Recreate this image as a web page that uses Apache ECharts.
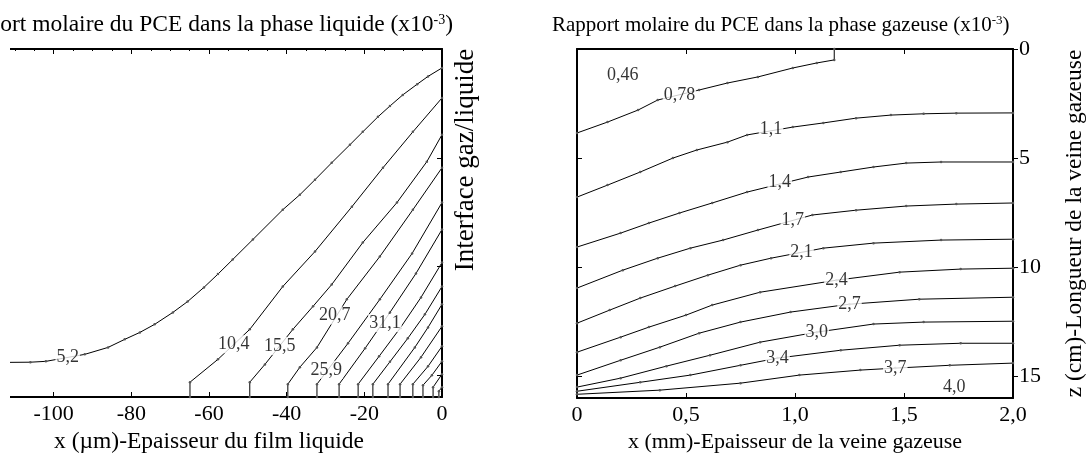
<!DOCTYPE html>
<html>
<head>
<meta charset="utf-8">
<script src="https://cdn.jsdelivr.net/npm/echarts@6/dist/echarts.min.js"></script>
<style>
	html, body { margin: 0; padding: 0; background: #fff; }
	#chart { width: 1091px; height: 455px; }
</style>
</head>
<body>
<div id="chart"></div>
<script>
// phase liquide : x en um, z en cm
var liqC1 = [[-120, 14.42], [-106, 14.40], [-102, 14.36], [-92, 14.04], [-86, 13.72], [-81.7, 13.35], [-77.8, 13.03], [-74, 12.66], [-69.3, 12.11], [-65.5, 11.61], [-61.3, 10.96], [-57.7, 10.35], [-53.9, 9.68], [-48.7, 8.76], [-41, 7.39], [-36.6, 6.70], [-32.7, 6.01], [-28.4, 5.23], [-23.7, 4.40], [-20.4, 3.81], [-16.5, 3.12], [-13.4, 2.62], [-10.1, 2.11], [-6.4, 1.62], [-3.6, 1.26], [0, 0.87]];
var liqC2 = [[-64.9, 16], [-64.9, 15.32], [-57.7, 14.27], [-49.5, 12.89], [-41, 10.92], [-32.7, 9.31], [-23.2, 7.25], [-15.2, 5.46], [-7.5, 3.81], [0, 2.25]];
var liqC3 = [[-49.5, 16], [-49.5, 15.32], [-45.6, 14.5], [-38.4, 12.89], [-33.2, 11.83], [-28.4, 10.83], [-20.4, 8.90], [-11.6, 7.06], [-3.9, 5.18], [0, 3.94]];
var liqC4 = [[-39.7, 16], [-39.7, 15.41], [-36.6, 14.63], [-32.2, 13.72], [-24.5, 11.51], [-16, 9.54], [-7.5, 7.39], [0, 5.46]];
var liqC5 = [[-32.2, 16], [-32.2, 15.41], [-24.2, 13.53], [-16, 11.51], [-7.7, 9.40], [0, 7.06]];
var liqC6 = [[-26.5, 16], [-26.5, 15.41], [-19.8, 13.76], [-13.4, 12.11], [-6.7, 10.32], [0, 8.30]];
var liqC7 = [[-21.6, 16], [-21.6, 15.41], [-16.2, 14.13], [-10.8, 12.84], [-5.4, 11.42], [0, 9.82]];
var liqC8 = [[-17.8, 16], [-17.8, 15.41], [-13.4, 14.38], [-8.8, 13.30], [-4.4, 12.2], [0, 10.92]];
var liqC9 = [[-13.9, 16], [-13.9, 15.41], [-7.0, 13.72], [-3.6, 12.8], [0, 11.74]];
var liqC10 = [[-10.8, 16], [-10.8, 15.41], [-5.4, 14.17], [0, 12.75]];
var liqC11 = [[-7.5, 16], [-7.5, 15.41], [-3.6, 14.59], [0, 13.67]];
var liqC12 = [[-4.9, 16], [-4.9, 15.46], [-2.6, 15.0], [0, 14.36]];
var liqC13 = [[-2.3, 16], [-2.3, 15.55], [0, 14.95]];
var liqC14 = [[-0.8, 16], [-0.8, 15.73], [0, 15.55]];
var liqLabels = ['5,2', '10,4', '15,5', '20,7', '25,9', '31,1'];
var liqLabelPos = [[-96.4, 14.18], [-53.6, 13.58], [-41.8, 13.65], [-27.6, 12.25], [-29.8, 14.75], [-14.7, 12.6]];

// phase gazeuse : x en mm, z en cm
var gasC1 = [[0, 3.85], [0.14, 3.35], [0.28, 2.80], [0.37, 2.34], [0.56, 1.88], [0.69, 1.56], [0.83, 1.28], [0.99, 0.87], [1.10, 0.64], [1.18, 0.50], [1.18, 0]];
var gasC2 = [[0, 6.79], [0.14, 6.24], [0.29, 5.64], [0.44, 5.0], [0.55, 4.63], [0.69, 4.27], [0.78, 3.94], [0.99, 3.58], [1.13, 3.39], [1.28, 3.17], [1.44, 3.03], [1.59, 2.97], [1.74, 2.94], [2.0, 2.93]];
var gasC3 = [[0, 9.08], [0.20, 8.44], [0.33, 7.98], [0.47, 7.52], [0.62, 7.06], [0.78, 6.56], [1.06, 5.87], [1.21, 5.64], [1.36, 5.41], [1.51, 5.23], [1.67, 5.18], [2.0, 5.18]];
var gasC4 = [[0, 10.96], [0.21, 10.14], [0.37, 9.59], [0.52, 9.13], [0.67, 8.76], [0.83, 8.30], [1.08, 7.61], [1.28, 7.39], [1.51, 7.20], [1.74, 7.11], [2.0, 7.06]];
var gasC5 = [[0, 12.57], [0.15, 11.97], [0.29, 11.42], [0.45, 10.87], [0.60, 10.37], [0.75, 9.91], [0.89, 9.59], [1.13, 9.13], [1.36, 8.90], [1.67, 8.76], [2.0, 8.72]];
var gasC6 = [[0, 13.90], [0.20, 13.21], [0.33, 12.75], [0.50, 12.20], [0.62, 11.74], [0.84, 11.15], [1.19, 10.60], [1.48, 10.23], [1.76, 10.09], [2.0, 10.05]];
var gasC7 = [[0, 14.95], [0.20, 14.27], [0.38, 13.67], [0.56, 13.03], [0.75, 12.52], [0.98, 12.06], [1.25, 11.70], [1.57, 11.47], [2.0, 11.38]];
var gasC8 = [[0, 15.50], [0.20, 15.09], [0.41, 14.54], [0.61, 14.04], [0.84, 13.44], [1.10, 12.98], [1.36, 12.61], [1.59, 12.52], [2.0, 12.48]];
var gasC9 = [[0, 15.69], [0.29, 15.28], [0.52, 14.95], [0.75, 14.50], [0.92, 14.17], [1.21, 13.81], [1.48, 13.58], [1.76, 13.49], [2.0, 13.49]];
var gasC10 = [[0, 15.83], [0.38, 15.64], [0.75, 15.32], [1.02, 14.95], [1.30, 14.72], [1.46, 14.63], [1.71, 14.50], [2.0, 14.40]];
var gasLabels = ['0,46', '0,78', '1,1', '1,4', '1,7', '2,1', '2,4', '2,7', '3,0', '3,4', '3,7', '4,0'];
var gasLabelPos = [[0.21, 1.19], [0.47, 2.12], [0.89, 3.7], [0.93, 6.1], [0.99, 7.86], [1.03, 9.34], [1.19, 10.6], [1.25, 11.7], [1.10, 12.98], [0.92, 14.17], [1.46, 14.63], [1.73, 15.5]];

var liqLines = [liqC1, liqC2, liqC3, liqC4, liqC5, liqC6, liqC7, liqC8, liqC9, liqC10, liqC11, liqC12, liqC13, liqC14];
var gasLines = [gasC1, gasC2, gasC3, gasC4, gasC5, gasC6, gasC7, gasC8, gasC9, gasC10];

var font = 'Liberation Serif';

function contour(points, xi, yi) {
	return {
		type: 'line',
		xAxisIndex: xi,
		yAxisIndex: yi,
		data: points,
		symbol: 'circle',
		symbolSize: 2.5,
		showSymbol: true,
		showAllSymbol: true,
		itemStyle: { color: '#555' },
		lineStyle: { color: '#000', width: 1 },
		animation: false,
		z: 2
	};
}

function labels(names, pos, xi, yi) {
	var d = [];
	for (var i = 0; i < names.length; i++) {
		d.push({ name: names[i], value: pos[i] });
	}
	return {
		type: 'scatter',
		xAxisIndex: xi,
		yAxisIndex: yi,
		data: d,
		symbolSize: 0,
		itemStyle: { color: 'rgba(0,0,0,0)' },
		label: {
			show: true,
			position: 'inside',
			formatter: '{b}',
			color: '#000',
			fontFamily: font,
			fontSize: 18,
			backgroundColor: '#fff',
			padding: [0, 1]
		},
		animation: false,
		z: 5
	};
}

function frameAxis(pos, grid, min, max, interval, extra) {
	var a = {
		type: 'value',
		gridIndex: grid,
		position: pos,
		min: min,
		max: max,
		interval: interval,
		splitLine: { show: false },
		axisLine: { show: true, onZero: false, lineStyle: { color: '#000', width: 2 } },
		axisTick: { show: true, inside: true, length: 5, lineStyle: { color: '#000' } },
		axisLabel: { show: false }
	};
	for (var k in extra) a[k] = extra[k];
	return a;
}

function titleRich(size) {
	return {
		a: { fontFamily: font, fontSize: size, color: '#000' },
		s: { fontFamily: font, fontSize: Math.round(size * 0.6), color: '#000', verticalAlign: 'top', padding: [0, 0, 9, 0] }
	};
}

var series = [];
for (var i = 0; i < liqLines.length; i++) series.push(contour(liqLines[i], 0, 0));
for (var j = 0; j < gasLines.length; j++) series.push(contour(gasLines[j], 2, 1));
series.push(labels(liqLabels, liqLabelPos, 0, 0));
series.push(labels(gasLabels, gasLabelPos, 2, 1));

var myChart = echarts.init(document.getElementById('chart'));

var option = {
	backgroundColor: '#fff',
	animation: false,
	grid: [
		{ left: -24, right: 649, top: 49, bottom: 58, outerBoundsMode: 'none', containLabel: false },
		{ left: 577, right: 78, top: 49, bottom: 57, outerBoundsMode: 'none', containLabel: false }
	],
	xAxis: [
		frameAxis('bottom', 0, -120, 0, 20, {
			axisLabel: { show: true, color: '#000', fontFamily: font, fontSize: 22, margin: 6 },
			name: 'x (\u00b5m)-Epaisseur du film liquide',
			nameLocation: 'middle',
			nameGap: 33,
			nameTextStyle: { fontFamily: font, fontSize: 23.5, color: '#000' }
		}),
		frameAxis('top', 0, -120, 0, 20, {
			minorTick: { show: true, splitNumber: 4, length: 2, lineStyle: { color: '#000' } }
		}),
		frameAxis('bottom', 1, 0, 2, 0.5, {
			axisLabel: {
				show: true, color: '#000', fontFamily: font, fontSize: 22, margin: 6,
				formatter: function (v) { return v === 0 ? '0' : v.toFixed(1).replace('.', ','); }
			},
			name: 'x (mm)-Epaisseur de la veine gazeuse',
			nameLocation: 'middle',
			nameGap: 33,
			nameTextStyle: { fontFamily: font, fontSize: 22, color: '#000' }
		}),
		frameAxis('top', 1, 0, 2, 0.5, {})
	],
	yAxis: [
		frameAxis('right', 0, 0, 16, 5, { inverse: true }),
		frameAxis('right', 1, 0, 16, 5, {
			inverse: true,
			axisTick: { show: true, inside: false, length: 5, lineStyle: { color: '#000' } },
			axisLabel: { show: true, showMaxLabel: false, color: '#000', fontFamily: font, fontSize: 22, margin: 6 },
			name: 'z (cm)-Longueur de la veine gazeuse',
			nameLocation: 'middle',
			nameRotate: 90,
			nameGap: 50,
			nameTextStyle: { fontFamily: font, fontSize: 23.5, color: '#000' }
		}),
		frameAxis('left', 1, 0, 16, 5, { inverse: true })
	],
	graphic: [{
		type: 'rect',
		left: 0,
		top: 44,
		shape: { width: 10, height: 362 },
		style: { fill: '#fff' },
		z: 100
	}, {
		type: 'text',
		x: 453,
		y: 25,
		style: {
			text: '{a|Rapport molaire du PCE dans la phase liquide (x10}{s|-3}{a|)}',
			rich: titleRich(23.5),
			align: 'right',
			verticalAlign: 'middle'
		},
		z: 100
	}, {
		type: 'text',
		x: 552,
		y: 25,
		style: {
			text: '{a|Rapport molaire du PCE dans la phase gazeuse (x10}{s|-3}{a|)}',
			rich: titleRich(21),
			align: 'left',
			verticalAlign: 'middle'
		},
		z: 100
	}, {
		type: 'text',
		x: 466,
		y: 160,
		rotation: Math.PI / 2,
		style: {
			text: 'Interface gaz/liquide',
			font: '27px "Liberation Serif"',
			fill: '#000',
			align: 'center',
			verticalAlign: 'middle'
		},
		z: 100
	}],
	series: series
};

myChart.setOption(option);
</script>
</body>
</html>
